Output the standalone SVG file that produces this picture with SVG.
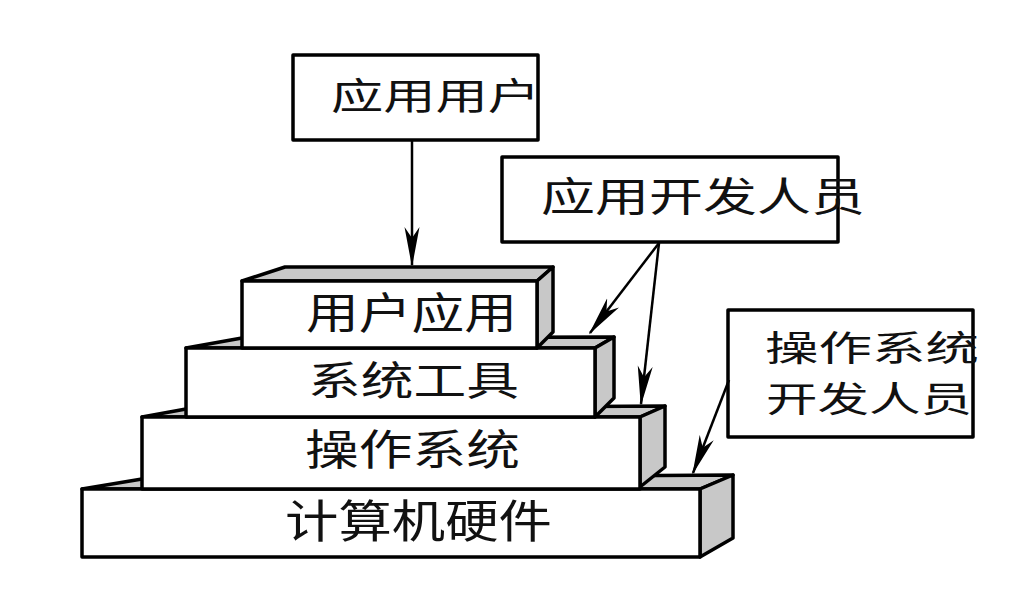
<svg xmlns="http://www.w3.org/2000/svg" width="1022" height="606" viewBox="0 0 1022 606">
<style>
.box{fill:#fff;stroke:#000;stroke-width:3.5;stroke-linejoin:round}
.front{fill:#fff;stroke:#000;stroke-width:3.5;stroke-linejoin:round}
.face{fill:#c8c8c8;stroke:#000;stroke-width:3.5;stroke-linejoin:round}
.t{font-family:"Noto Sans CJK SC","Noto Sans CJK TC",sans-serif;fill:#111}
.con{stroke:#000;stroke-width:2.5;fill:none;marker-end:url(#ah)}
</style>
<defs>
<marker id="ah" markerUnits="userSpaceOnUse" markerWidth="40" markerHeight="16" refX="38" refY="8" orient="auto">
<path d="M40,8 L0,0.5 L11,8 L0,15.5 Z" fill="#000"/>
</marker>
</defs>
<rect width="1022" height="606" fill="#fff"/>

<g id="block-hardware">
<polygon class="face" points="82,489 142,479 733,475 700,489"/>
<polygon class="face" points="700,489 733,475 733,538 700,557"/>
<rect class="front" x="82" y="489" width="618" height="68"/>
<text class="t" x="285" y="538" font-size="45" textLength="267" lengthAdjust="spacingAndGlyphs">计算机硬件</text>
</g>

<g id="block-os">
<polygon class="face" points="142,417 186,409 665,406 640,417"/>
<polygon class="face" points="640,417 665,406 665,467 640,487"/>
<rect class="front" x="142" y="417" width="498" height="72"/>
<text class="t" x="305" y="465" font-size="42" textLength="215" lengthAdjust="spacingAndGlyphs">操作系统</text>
</g>

<g id="block-tools">
<polygon class="face" points="186,348 242,338 614,337 595,348"/>
<polygon class="face" points="595,348 614,337 614,398 595,417"/>
<rect class="front" x="186" y="348" width="409" height="69"/>
<text class="t" x="308" y="395" font-size="40" textLength="211" lengthAdjust="spacingAndGlyphs">系统工具</text>
</g>

<g id="block-userapp">
<polygon class="face" points="242,281 285,267 553,267 537,281"/>
<polygon class="face" points="537,281 553,267 553,332 537,348"/>
<rect class="front" x="242" y="281" width="295" height="67"/>
<text class="t" x="306" y="329" font-size="43" textLength="211" lengthAdjust="spacingAndGlyphs">用户应用</text>
</g>

<g id="node-appuser">
<rect class="box" x="293" y="55" width="245" height="85"/>
<text class="t" x="331" y="110" font-size="37" textLength="209" lengthAdjust="spacingAndGlyphs">应用用户</text>
</g>

<g id="node-appdev">
<rect class="box" x="502" y="157" width="336" height="85"/>
<text class="t" x="541" y="211" font-size="40" textLength="324" lengthAdjust="spacingAndGlyphs">应用开发人员</text>
</g>

<g id="node-osdev">
<rect class="box" x="728" y="310" width="245" height="127"/>
<text class="t" font-size="35"><tspan x="765" y="361" textLength="214" lengthAdjust="spacingAndGlyphs">操作系统</tspan><tspan x="766" y="412" textLength="206" lengthAdjust="spacingAndGlyphs">开发人员</tspan></text>
</g>

<g id="connectors">
<line class="con" x1="412" y1="141" x2="412" y2="265"/>
<line class="con" x1="659" y1="243" x2="590" y2="333"/>
<line class="con" x1="659" y1="243" x2="641" y2="404"/>
<line class="con" x1="729" y1="380" x2="693" y2="473"/>
</g>
</svg>
